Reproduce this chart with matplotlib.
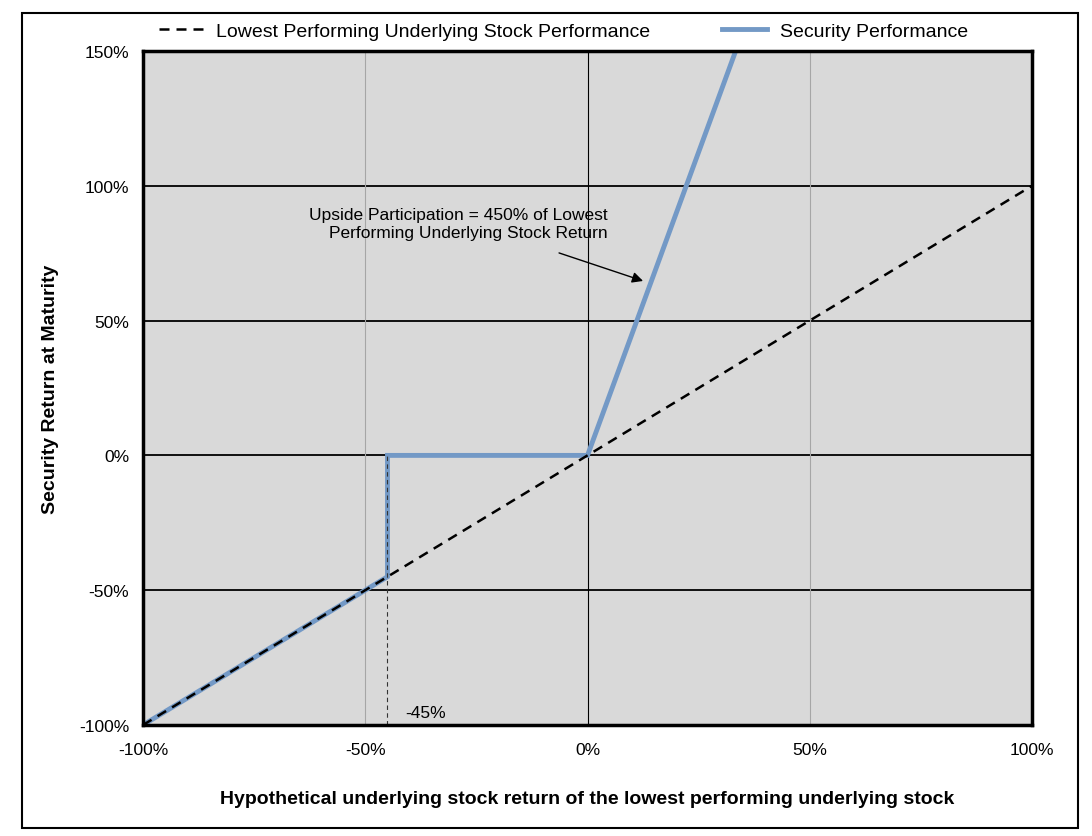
import matplotlib
matplotlib.use("Agg")
import matplotlib.pyplot as plt
from matplotlib.patches import Rectangle

plt.rcParams['font.family'] = ['Liberation Sans', 'DejaVu Sans']

# data
x_under = [-100, 100]
y_under = [-100, 100]
x_sec = [-100, -45, -45, 0, 100 / 3]
y_sec = [-100, -45, 0, 0, 150]
barrier = -45
xticks = [-100, -50, 0, 50, 100]
yticks = [-100, -50, 0, 50, 100, 150]

fig = plt.figure(figsize=(10.92, 8.37), dpi=100)
fig.patches.append(Rectangle((22 / 1092, 1 - 829 / 837), 1056 / 1092, 815 / 837,
                             transform=fig.transFigure, fill=False, lw=1.5, ec='black'))
ax = fig.add_axes([143 / 1092, 1 - 726 / 837, 889 / 1092, 674 / 837])
ax.set_facecolor('#d9d9d9')
ax.set_xlim(-100, 100)
ax.set_ylim(-100, 150)

# grid
for v in [-50, 0, 50, 100]:
    ax.axhline(v, color='black', lw=1.3, zorder=1)
for v in [-50, 50]:
    ax.axvline(v, color='#a6a6a6', lw=0.8, zorder=1)
ax.axvline(0, color='black', lw=0.8, zorder=1)

ax.plot(x_sec, y_sec, color='#7399c6', lw=3.5, zorder=3,
        label='Security Performance', solid_joinstyle='miter')
ax.plot(x_under, y_under, color='black', lw=1.8, ls=(0, (4, 2.8)), zorder=4,
        label='Lowest Performing Underlying Stock Performance')
ax.plot([barrier, barrier], [-100, 0], color='#333333', lw=0.8, ls=(0, (4, 3)), zorder=4)
ax.text(barrier + 4, -95.5, '-45%', fontsize=12.5, ha='left', va='center')

ax.text(4.6, 92, 'Upside Participation = 450% of Lowest\nPerforming Underlying Stock Return',
        fontsize=12.5, ha='right', va='top', multialignment='right')
ax.annotate('', xy=(12.5, 64.7), xytext=(-6.4, 75.1),
            arrowprops=dict(arrowstyle='-|>', color='black', lw=1, mutation_scale=16,
                            shrinkA=0, shrinkB=0))

ax.set_xticks(xticks)
ax.set_xticklabels([f'{v}%' for v in xticks])
ax.set_yticks(yticks)
ax.set_yticklabels([f'{v}%' for v in yticks])
ax.tick_params(length=0, labelsize=12.5)
ax.tick_params(axis='x', pad=12)
ax.tick_params(axis='y', pad=10)
for s in ax.spines.values():
    s.set_linewidth(2.5)
    s.set_zorder(5)

ax.set_xlabel('Hypothetical underlying stock return of the lowest performing underlying stock',
              fontsize=14, fontweight='bold', labelpad=24)
ax.set_ylabel('Security Return at Maturity', fontsize=14, fontweight='bold', labelpad=14)

h, l = ax.get_legend_handles_labels()
fig.legend(h[::-1], l[::-1], loc='center', bbox_to_anchor=(0.516, 1 - 32 / 837), ncol=2,
           frameon=False, fontsize=14, handlelength=2.3, columnspacing=3.7, handletextpad=0.66)

fig.savefig('out.png', dpi=100)
